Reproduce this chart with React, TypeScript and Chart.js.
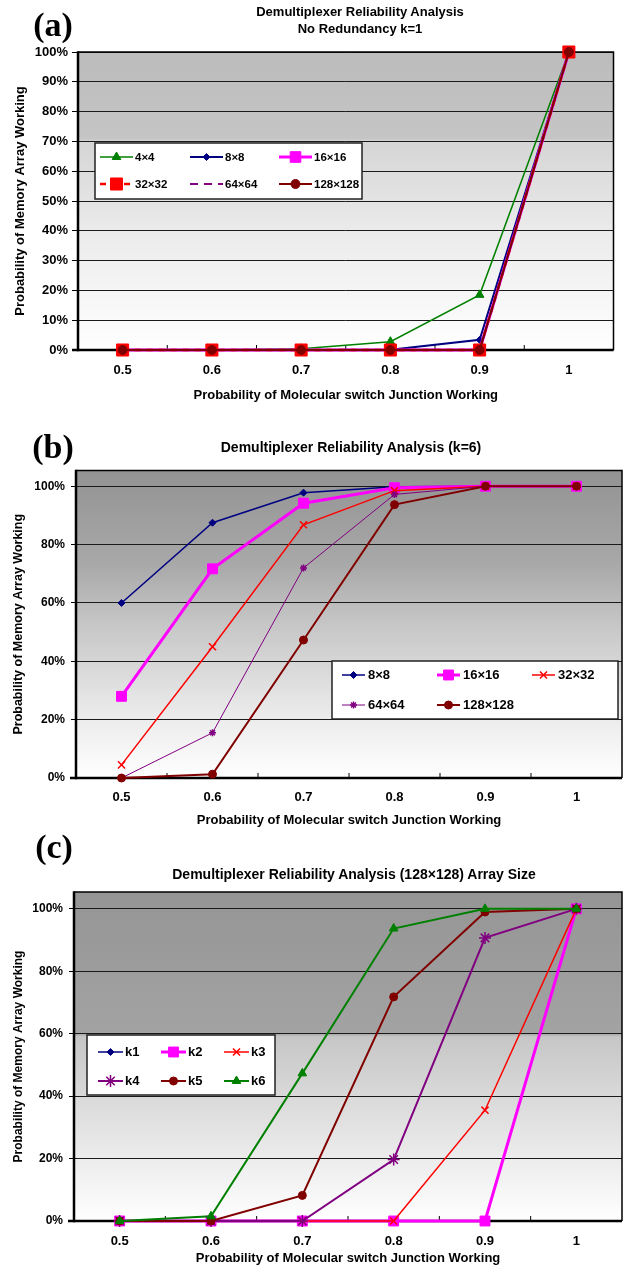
import React, { useEffect, useRef } from 'react';
import { Chart, registerables } from 'chart.js';
import { drawPoint } from 'chart.js/helpers';

Chart.register(...registerables);

const FONT = "'Liberation Sans', Arial, Helvetica, sans-serif";
const SERIF = "'Liberation Serif', 'Times New Roman', serif";

// ---------- shared categories / ticks ----------
const xCategories = ['0.5', '0.6', '0.7', '0.8', '0.9', '1'];
const yTicksA = [0, 0.1, 0.2, 0.3, 0.4, 0.5, 0.6, 0.7, 0.8, 0.9, 1];
const yTicksBC = [0, 0.2, 0.4, 0.6, 0.8, 1];
const xTitle = 'Probability of Molecular switch Junction Working';
const yTitle = 'Probability of Memory Array Working';

// ---------- (a) No redundancy k=1 ----------
const aLabels = ['4×4', '8×8', '16×16', '32×32', '64×64', '128×128'];
const a4x4 = [0, 0.0003, 0.004, 0.028, 0.185, 1];
const a8x8 = [0, 0, 0, 0.001, 0.034, 1];
const a16x16 = [0, 0, 0, 0, 0, 1];
const a32x32 = [0, 0, 0, 0, 0, 1];
const a64x64 = [0, 0, 0, 0, 0, 1];
const a128x128 = [0, 0, 0, 0, 0, 1];

// ---------- (b) k=6 ----------
const bLabels = ['8×8', '16×16', '32×32', '64×64', '128×128'];
const b8x8 = [0.6, 0.875, 0.978, 0.998, 1, 1];
const b16x16 = [0.28, 0.717, 0.942, 0.995, 1, 1];
const b32x32 = [0.045, 0.45, 0.868, 0.985, 1, 1];
const b64x64 = [0, 0.155, 0.72, 0.972, 1, 1];
const b128x128 = [0, 0.013, 0.473, 0.937, 1, 1];

// ---------- (c) 128x128 array, k1..k6 ----------
const cLabels = ['k1', 'k2', 'k3', 'k4', 'k5', 'k6'];
const cK1 = [0, 0, 0, 0, 0, 1];
const cK2 = [0, 0, 0, 0, 0, 1];
const cK3 = [0, 0, 0, 0, 0.355, 1];
const cK4 = [0, 0, 0, 0.197, 0.907, 1];
const cK5 = [0, 0, 0.082, 0.718, 0.99, 1];
const cK6 = [0, 0.015, 0.473, 0.937, 1, 1];

const NAVY = '#000080';
const MAGENTA = '#ff00ff';
const RED = '#ff0000';
const PURPLE = '#800080';
const DARKRED = '#800000';
const GREEN = '#008000';

function ds(label: string, data: number[], color: string, width: number, pointStyle: any, radius: number, dash: number[] = [], pbw = 1) {
  return {
    label, data,
    borderColor: color, backgroundColor: color,
    borderWidth: width, borderDash: dash,
    pointStyle, pointRadius: radius, pointHoverRadius: radius,
    pointBackgroundColor: color, pointBorderColor: color, pointBorderWidth: pbw,
    tension: 0, clip: false, fill: false,
  };
}

function withOrder(list: any[]) {
  return list.map((d, i) => ({ ...d, order: list.length - i }));
}

const datasetsA = withOrder([
  ds(aLabels[0], a4x4, GREEN, 1.5, 'triangle', 5),
  ds(aLabels[1], a8x8, NAVY, 2, 'rectRot', 3.5),
  ds(aLabels[2], a16x16, MAGENTA, 3, 'rect', 7.5),
  ds(aLabels[3], a32x32, RED, 2.5, 'rect', 8.5, [6, 6]),
  ds(aLabels[4], a64x64, PURPLE, 2, 'circle', 0, [8, 6]),
  ds(aLabels[5], a128x128, DARKRED, 2, 'circle', 4.5),
]);

const datasetsB = withOrder([
  ds(bLabels[0], b8x8, NAVY, 1.5, 'rectRot', 3.5),
  ds(bLabels[1], b16x16, MAGENTA, 3, 'rect', 7),
  ds(bLabels[2], b32x32, RED, 1.5, 'crossRot', 5, [], 1.5),
  ds(bLabels[3], b64x64, PURPLE, 1, 'star', 3.5, [], 1.5),
  ds(bLabels[4], b128x128, DARKRED, 2, 'circle', 4),
]);

const datasetsC = withOrder([
  ds(cLabels[0], cK1, NAVY, 1.5, 'rectRot', 3.5),
  ds(cLabels[1], cK2, MAGENTA, 3, 'rect', 7),
  ds(cLabels[2], cK3, RED, 1.5, 'crossRot', 5, [], 1.5),
  ds(cLabels[3], cK4, PURPLE, 2, 'star', 6, [], 1.5),
  ds(cLabels[4], cK5, DARKRED, 2, 'circle', 4),
  ds(cLabels[5], cK6, GREEN, 2, 'triangle', 5),
]);

type Panel = {
  top: number; w: number; h: number;
  left: number; ctop: number; right: number; bottom: number;
  padL: number; axisBottom: number; xTickPad: number;
  ymax: number; yTicks: number[]; yFont: number; yTitleFont: number; tickLen: number; yTickPad: number;
  stops: [number, string][];
  legend: { box: number[]; colX: number[]; rowY: number[]; keyLen: number; gap: number; font: string; cols: number };
  datasets: any[];
};

const panels: Panel[] = [
  {
    top: 0, w: 623, h: 412,
    left: 78, ctop: 52, right: 614, bottom: 350,
    padL: 10.2, axisBottom: 404.8, xTickPad: 13,
    ymax: 1, yTicks: yTicksA, yFont: 13, yTitleFont: 13, tickLen: 6, yTickPad: 4,
    stops: [[0, '#bcbcbc'], [0.29, '#c5c5c5'], [0.3, '#d5d5d5'], [0.6, '#ebebeb'], [1, '#ffffff']],
    legend: { box: [95, 143, 267, 56], colX: [100, 190, 279], rowY: [157, 184], keyLen: 33, gap: 2, font: `bold 11.5px ${FONT}`, cols: 3 },
    datasets: datasetsA,
  },
  {
    top: 400, w: 630, h: 432,
    left: 76, ctop: 70.5, right: 624.4, bottom: 378,
    padL: 9.5, axisBottom: 429.8, xTickPad: 12,
    ymax: 1.054, yTicks: yTicksBC, yFont: 12, yTitleFont: 12.5, tickLen: 5, yTickPad: 6,
    stops: [[0, '#939393'], [0.3, '#a8a8a8'], [0.5, '#c6c6c6'], [0.75, '#e6e6e6'], [1, '#ffffff']],
    legend: { box: [332, 261, 286, 58], colX: [342, 437, 532], rowY: [275, 305], keyLen: 23, gap: 3, font: `bold 13px ${FONT}`, cols: 3 },
    datasets: datasetsB,
  },
  {
    top: 830, w: 630, h: 438,
    left: 74, ctop: 62, right: 622.4, bottom: 391,
    padL: 9.8, axisBottom: 437.8, xTickPad: 13,
    ymax: 1.054, yTicks: yTicksBC, yFont: 12, yTitleFont: 12, tickLen: 5, yTickPad: 6,
    stops: [[0, '#959595'], [0.43, '#a3a3a3'], [0.44, '#c6c6c6'], [0.62, '#d9d9d9'], [1, '#ffffff']],
    legend: { box: [87, 205, 188, 60], colX: [98, 161, 224], rowY: [222, 251], keyLen: 25, gap: 2, font: `bold 13px ${FONT}`, cols: 3 },
    datasets: datasetsC,
  },
];

function buildConfig(p: Panel): any {
  const bgPlugin = {
    id: 'bgGradient',
    beforeDraw(chart: any) {
      const { ctx, chartArea } = chart;
      if (!chartArea) return;
      const g = ctx.createLinearGradient(0, chartArea.top, 0, chartArea.bottom);
      p.stops.forEach(([o, c]) => g.addColorStop(o, c));
      ctx.save();
      ctx.fillStyle = g;
      ctx.fillRect(chartArea.left, chartArea.top, chartArea.right - chartArea.left, chartArea.bottom - chartArea.top);
      ctx.restore();
    },
  };
  const framePlugin = {
    id: 'frame',
    beforeDatasetsDraw(chart: any) {
      const { ctx, chartArea } = chart;
      const { left, top, right, bottom } = chartArea;
      ctx.save();
      ctx.strokeStyle = '#000';
      ctx.lineWidth = 1.5;
      ctx.beginPath();
      ctx.moveTo(left, top); ctx.lineTo(right, top); ctx.lineTo(right, bottom);
      ctx.stroke();
      ctx.lineWidth = 2.5;
      ctx.beginPath();
      ctx.moveTo(left, top - 0.75); ctx.lineTo(left, bottom + 1.25);
      ctx.stroke();
      ctx.lineWidth = 2.5;
      ctx.beginPath();
      ctx.moveTo(left - 6, bottom); ctx.lineTo(right, bottom);
      ctx.stroke();
      const xs = chart.scales.x;
      ctx.lineWidth = 1;
      ctx.beginPath();
      for (let i = 1; i < xCategories.length; i++) {
        const x = (xs.getPixelForValue(i - 1) + xs.getPixelForValue(i)) / 2;
        ctx.moveTo(x, bottom); ctx.lineTo(x, bottom - 5);
      }
      ctx.stroke();
      ctx.restore();
    },
  };
  const legendPlugin = {
    id: 'boxLegend',
    afterDatasetsDraw(chart: any) {
      const { ctx } = chart;
      const L = p.legend;
      ctx.save();
      ctx.fillStyle = '#ffffff';
      ctx.fillRect(L.box[0], L.box[1], L.box[2], L.box[3]);
      ctx.strokeStyle = '#222';
      ctx.lineWidth = 1.5;
      ctx.strokeRect(L.box[0], L.box[1], L.box[2], L.box[3]);
      chart.data.datasets.forEach((d: any, i: number) => {
        const col = i % L.cols;
        const row = Math.floor(i / L.cols);
        const kx = L.colX[col];
        const ky = L.rowY[row];
        ctx.beginPath();
        ctx.setLineDash(d.borderDash || []);
        ctx.strokeStyle = d.borderColor;
        ctx.lineWidth = d.borderWidth;
        ctx.moveTo(kx, ky); ctx.lineTo(kx + L.keyLen, ky);
        ctx.stroke();
        ctx.setLineDash([]);
        if (d.pointRadius > 0) {
          ctx.fillStyle = d.pointBackgroundColor;
          ctx.strokeStyle = d.pointBorderColor;
          ctx.lineWidth = d.pointBorderWidth;
          drawPoint(ctx, { pointStyle: d.pointStyle, radius: d.pointRadius, borderWidth: d.pointBorderWidth, rotation: 0 } as any, kx + L.keyLen / 2, ky);
        }
        ctx.fillStyle = '#000';
        ctx.font = L.font;
        ctx.textBaseline = 'middle';
        ctx.textAlign = 'left';
        ctx.fillText(d.label, kx + L.keyLen + L.gap, ky + 0.5);
      });
      ctx.restore();
    },
  };

  return {
    type: 'line',
    data: { labels: xCategories, datasets: p.datasets },
    options: {
      responsive: false,
      animation: false,
      devicePixelRatio: 1,
      events: [],
      layout: { padding: { left: p.padL, top: p.ctop, right: p.w - p.right, bottom: p.h - p.axisBottom } },
      plugins: { legend: { display: false }, title: { display: false }, tooltip: { enabled: false } },
      scales: {
        x: {
          type: 'category',
          offset: true,
          grid: { display: false, drawTicks: false },
          border: { display: false },
          ticks: { color: '#000', font: { family: FONT, size: 13, weight: 'bold' }, padding: p.xTickPad, maxRotation: 0, autoSkip: false },
          title: { display: true, text: xTitle, color: '#000', font: { family: FONT, size: 13, weight: 'bold' }, padding: { top: 0, bottom: 2 } },
          afterFit: (s: any) => { s.height = p.axisBottom - p.bottom; },
        },
        y: {
          type: 'linear',
          min: 0,
          max: p.ymax,
          grid: { color: '#1a1a1a', lineWidth: 1, drawTicks: true, tickLength: p.tickLen, tickColor: '#000', tickWidth: 1 },
          border: { display: false },
          ticks: {
            color: '#000', font: { family: FONT, size: p.yFont, weight: 'bold' }, padding: p.yTickPad,
            callback: (v: any) => Math.round(Number(v) * 100) + '%',
          },
          afterBuildTicks: (s: any) => { s.ticks = p.yTicks.map((v) => ({ value: v })); },
          title: { display: true, text: yTitle, color: '#000', font: { family: FONT, size: p.yTitleFont, weight: 'bold' }, padding: { top: 2, bottom: 0 } },
          afterFit: (s: any) => { s.width = p.left - p.padL; },
        },
      },
    },
    plugins: [bgPlugin, framePlugin, legendPlugin],
  };
}

function PanelChart({ p }: { p: Panel }) {
  const ref = useRef<HTMLCanvasElement>(null);
  useEffect(() => {
    const chart = new Chart(ref.current as HTMLCanvasElement, buildConfig(p));
    return () => chart.destroy();
  }, [p]);
  return (
    <canvas
      ref={ref}
      width={p.w}
      height={p.h}
      style={{ position: 'absolute', left: 0, top: p.top, width: p.w, height: p.h, display: 'block' }}
    />
  );
}

const panelLetters = [
  { text: '(a)', cx: 53, cy: 25 },
  { text: '(b)', cx: 53, cy: 447 },
  { text: '(c)', cx: 54, cy: 847 },
];

const titles = [
  { lines: ['Demultiplexer Reliability Analysis', 'No Redundancy k=1'], cx: 360, cy: 20.5, size: 13, lh: 17.6 },
  { lines: ['Demultiplexer Reliability Analysis (k=6)'], cx: 351, cy: 447, size: 14, lh: 17 },
  { lines: ['Demultiplexer Reliability Analysis (128×128) Array Size'], cx: 354, cy: 874, size: 14, lh: 17 },
];

export default function App() {
  return (
    <div style={{ position: 'absolute', left: 0, top: 0, width: 623, height: 1268, overflow: 'hidden', background: '#ffffff' }}>
      {panels.map((p, i) => <PanelChart key={i} p={p} />)}
      {panelLetters.map((l, i) => (
        <div
          key={'l' + i}
          style={{
            position: 'absolute', left: l.cx - 40, width: 80, top: l.cy - 20, height: 40, lineHeight: '40px',
            textAlign: 'center', fontFamily: SERIF, fontWeight: 'bold', fontSize: 34, color: '#000',
          }}
        >
          {l.text}
        </div>
      ))}
      {titles.map((t, i) => (
        <div
          key={'t' + i}
          style={{
            position: 'absolute', left: t.cx - 300, width: 600, top: t.cy - (t.lh * t.lines.length) / 2,
            textAlign: 'center', fontFamily: FONT, fontWeight: 'bold', fontSize: t.size, lineHeight: t.lh + 'px', color: '#000',
          }}
        >
          {t.lines.map((s, j) => <div key={j}>{s}</div>)}
        </div>
      ))}
    </div>
  );
}
